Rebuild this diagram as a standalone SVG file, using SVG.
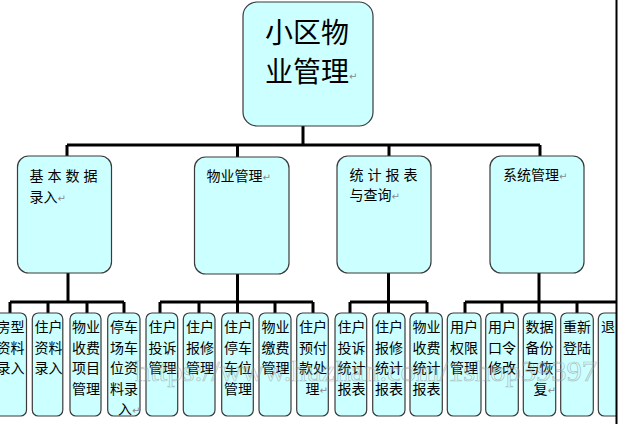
<svg xmlns="http://www.w3.org/2000/svg" width="621" height="424" viewBox="0 0 621 424">
<style>
.box{fill:#ccffff;stroke:#3a3a3a;stroke-width:1.2}
.con{stroke:#000;stroke-width:3;fill:none}
.t{font-family:"Noto Sans CJK SC","Noto Sans CJK JP",sans-serif;font-size:14px;fill:#000}
.big{font-size:28px}
.sp{letter-spacing:4px}
.rm{font-family:"DejaVu Sans",sans-serif;font-size:10px;fill:#8a8a8a}
.wm{font-family:"Liberation Serif",serif;font-size:30px;fill:#ffffff;fill-opacity:0.25;stroke:#8c8c8c;stroke-width:0.7;opacity:0.55}
</style>
<defs><clipPath id="page"><rect x="-10" y="0" width="626" height="424"/></clipPath></defs>
<rect x="0" y="0" width="621" height="424" fill="#ffffff"/>
<g id="connectors">
<path class="con" d="M303,126 V145 M67,145 H540 M67,145 V156 M237.5,145 V157 M389,145 V156 M540,145 V156"/>
<path class="con" d="M68,273 V302 M10,302 H124 M10,302 V313 M48,302 V313 M87,302 V313 M124,302 V313"/>
<path class="con" d="M237.5,274 V302 M160,302 H313 M160,302 V313 M199,302 V313 M237.5,302 V313 M275,302 V313 M313,302 V313"/>
<path class="con" d="M388.5,273 V302 M350,302 H427 M350,302 V313 M388.5,302 V313 M427,302 V313"/>
<path class="con" d="M539,273 V302 M465,302 H616 M465,302 V313 M502,302 V313 M539,302 V313 M577,302 V313"/>
</g>
<g id="root">
<rect class="box" x="243" y="2" width="130" height="124" rx="14"/>
<text class="t big" x="265" y="43">小区物</text>
<text class="t big" x="265" y="81.5">业管理<tspan class="rm" dy="-2">↵</tspan></text>
</g>
<g id="n1">
<rect class="box" x="17.5" y="156" width="94" height="117" rx="11"/>
<text class="t sp" x="29.5" y="181">基本数据</text>
<text class="t" x="29.5" y="201.5">录入<tspan class="rm">↵</tspan></text>
</g>
<g id="n2">
<rect class="box" x="194.5" y="157" width="94.5" height="117" rx="11"/>
<text class="t" x="206.5" y="180.5">物业管理<tspan class="rm">↵</tspan></text>
</g>
<g id="n3">
<rect class="box" x="337" y="156" width="94" height="117" rx="11"/>
<text class="t sp" x="349.5" y="180">统计报表</text>
<text class="t" x="349.5" y="200">与查询<tspan class="rm">↵</tspan></text>
</g>
<g id="n4">
<rect class="box" x="490" y="156" width="94" height="117" rx="11"/>
<text class="t" x="503" y="180">系统管理<tspan class="rm">↵</tspan></text>
</g>
<g clip-path="url(#page)">
<g id="l1"><rect class="box" x="-6.5" y="313" width="33" height="103" rx="6"/>
<text class="t" x="-3.5" y="332">房型</text><text class="t" x="-3.5" y="352.5">资料</text><text class="t" x="-3.5" y="373">录入</text></g>
<g id="l2"><rect class="box" x="32.3" y="313" width="30.5" height="103" rx="6"/>
<text class="t" x="34.5" y="332">住户</text><text class="t" x="34.5" y="352.5">资料</text><text class="t" x="34.5" y="373">录入</text></g>
<g id="l3"><rect class="box" x="70" y="313" width="31" height="103" rx="6"/>
<text class="t" x="72" y="332">物业</text><text class="t" x="72" y="352.5">收费</text><text class="t" x="72" y="373">项目</text><text class="t" x="72" y="393.5">管理</text></g>
<g id="l4"><rect class="box" x="107.7" y="313" width="32.3" height="103" rx="6"/>
<text class="t" x="110" y="332">停车</text><text class="t" x="110" y="352.5">场车</text><text class="t" x="110" y="373">位资</text><text class="t" x="110" y="393.5">料录</text><text class="t" x="118" y="414">入<tspan class="rm">↵</tspan></text></g>
<g id="l5"><rect class="box" x="146" y="313" width="31.7" height="103" rx="6"/>
<text class="t" x="148.5" y="332">住户</text><text class="t" x="148.5" y="352.5">投诉</text><text class="t" x="148.5" y="373">管理</text></g>
<g id="l6"><rect class="box" x="183.3" y="313" width="31.7" height="103" rx="6"/>
<text class="t" x="186" y="332">住户</text><text class="t" x="186" y="352.5">报修</text><text class="t" x="186" y="373">管理</text></g>
<g id="l7"><rect class="box" x="221.7" y="313" width="31.6" height="103" rx="6"/>
<text class="t" x="224" y="332">住户</text><text class="t" x="224" y="352.5">停车</text><text class="t" x="224" y="373">车位</text><text class="t" x="224" y="393.5">管理</text></g>
<g id="l8"><rect class="box" x="259" y="313" width="32" height="103" rx="6"/>
<text class="t" x="261.5" y="332">物业</text><text class="t" x="261.5" y="352.5">缴费</text><text class="t" x="261.5" y="373">管理</text></g>
<g id="l9"><rect class="box" x="296.7" y="313" width="31.6" height="103" rx="6"/>
<text class="t" x="299" y="332">住户</text><text class="t" x="299" y="352.5">预付</text><text class="t" x="299" y="373">款处</text><text class="t" x="305.5" y="393.5">理<tspan class="rm">↵</tspan></text></g>
<g id="l10"><rect class="box" x="335" y="313" width="31.7" height="103" rx="6"/>
<text class="t" x="337.5" y="332">住户</text><text class="t" x="337.5" y="352.5">投诉</text><text class="t" x="337.5" y="373">统计</text><text class="t" x="337.5" y="393.5">报表</text></g>
<g id="l11"><rect class="box" x="372.7" y="313" width="32.3" height="103" rx="6"/>
<text class="t" x="375" y="332">住户</text><text class="t" x="375" y="352.5">报修</text><text class="t" x="375" y="373">统计</text><text class="t" x="375" y="393.5">报表</text></g>
<g id="l12"><rect class="box" x="410" y="313" width="32.3" height="103" rx="6"/>
<text class="t" x="412.5" y="332">物业</text><text class="t" x="412.5" y="352.5">收费</text><text class="t" x="412.5" y="373">统计</text><text class="t" x="412.5" y="393.5">报表</text></g>
<g id="l13"><rect class="box" x="447.3" y="313" width="33.7" height="103" rx="6"/>
<text class="t" x="450" y="332">用户</text><text class="t" x="450" y="352.5">权限</text><text class="t" x="450" y="373">管理</text></g>
<g id="l14"><rect class="box" x="485.7" y="313" width="32.6" height="103" rx="6"/>
<text class="t" x="488" y="332">用户</text><text class="t" x="488" y="352.5">口令</text><text class="t" x="488" y="373">修改</text></g>
<g id="l15"><rect class="box" x="523.3" y="313" width="32.4" height="103" rx="6"/>
<text class="t" x="525.5" y="332">数据</text><text class="t" x="525.5" y="352.5">备份</text><text class="t" x="525.5" y="373">与恢</text><text class="t" x="533.5" y="393.5">复<tspan class="rm">↵</tspan></text></g>
<g id="l16"><rect class="box" x="560.7" y="313" width="32.6" height="103" rx="6"/>
<text class="t" x="563" y="332">重新</text><text class="t" x="563" y="352.5">登陆</text></g>
<g id="l17" clip-path="url(#qclip)"><rect class="box" x="598.3" y="313" width="36" height="103" rx="6"/>
<text class="t" x="601" y="332">退出</text></g>
</g>
<defs><clipPath id="qclip"><rect x="590" y="300" width="26.5" height="124"/></clipPath></defs>
<line x1="616.5" y1="0" x2="616.5" y2="424" stroke="#000" stroke-width="2"/>
<text class="wm" x="135" y="381" textLength="462" lengthAdjust="spacingAndGlyphs">https://www.huzhan.com/1shop39397</text>
</svg>
